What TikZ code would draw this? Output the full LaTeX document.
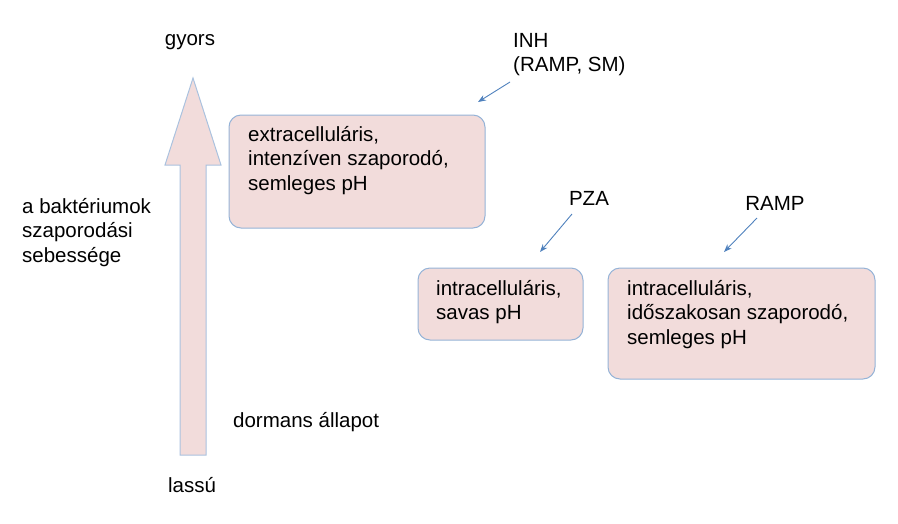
\documentclass[tikz,border=0pt]{standalone}
\usepackage{fontspec}
\setmainfont{Liberation Sans}
\usetikzlibrary{arrows.meta}
\definecolor{pinkf}{HTML}{F2DCDB}
\definecolor{bord}{HTML}{95B3D7}
\definecolor{arr}{HTML}{4F81BD}
\begin{document}
\begin{tikzpicture}[x=1pt,y=-1pt,
  every node/.style={font=\fontsize{20.5}{24.5}\selectfont},
  box/.style={draw=bord,fill=pinkf,rounded corners=12pt,line width=1pt},
  lbl/.style={anchor=north west,align=left,inner sep=0pt},
  ptr/.style={draw=arr,line width=0.9pt,-{Stealth[length=8pt,width=6pt]}}]
\useasboundingbox (0,0) rectangle (898,523);
\draw[draw=bord!80,fill=pinkf,line width=1pt] (180,455) -- (180,165) -- (165,165) -- (193,78) -- (221,165) -- (206,165) -- (206,455) -- cycle;
\node (gy) at (190,42) {gyors};
\node (la) at (192,485) {lassú};
\node[lbl] (sp) at (22,198) {a baktériumok\\szaporodási\\sebessége};
\node[lbl] (dor) at (233,412) {dormans állapot};
\draw[box] (229,115) rectangle (485,228);
\node[lbl] (t1) at (248,126) {extracelluláris,\\intenzíven szaporodó,\\semleges pH};
\draw[box] (418,268) rectangle (583,340);
\node[lbl] (t2) at (436,280) {intracelluláris,\\savas pH};
\draw[box] (608,268) rectangle (875,379);
\node[lbl] (t3) at (627,280) {intracelluláris,\\időszakosan szaporodó,\\semleges pH};
\node[lbl] (inh) at (513,33) {INH\\(RAMP, SM)};
\node (pza) at (589,198) {PZA};
\node (ramp) at (775,203) {RAMP};
\coordinate (a1s) at (510,82); \coordinate (a1e) at (478,102);
\coordinate (a2s) at (572,214); \coordinate (a2e) at (540,252);
\coordinate (a3s) at (757,218); \coordinate (a3e) at (724,252);
\draw[ptr] (a1s) -- (a1e);
\draw[ptr] (a2s) -- (a2e);
\draw[ptr] (a3s) -- (a3e);
\end{tikzpicture}
\end{document}
